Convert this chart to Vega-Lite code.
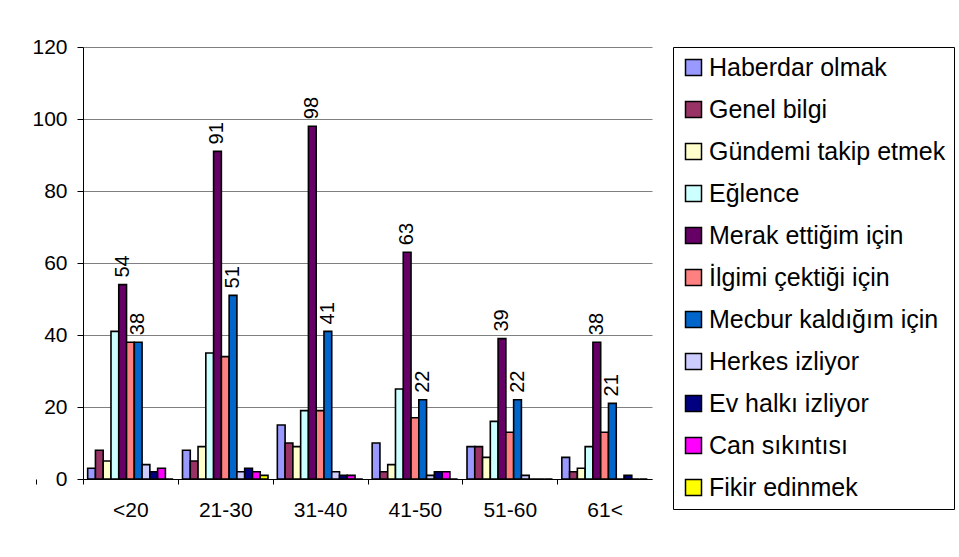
{
  "$schema": "https://vega.github.io/schema/vega-lite/v6.json",
  "autosize": {"type": "none"},
  "padding": {"left": 83, "top": 47, "right": 307, "bottom": 78},
  "width": 569,
  "height": 432,
  "background": "white",
  "config": {"view": {"stroke": null}},
  "data": {"values": [
    {"age": "<20", "series": "Haberdar olmak", "value": 3},
    {"age": "<20", "series": "Genel bilgi", "value": 8},
    {"age": "<20", "series": "Gündemi takip etmek", "value": 5},
    {"age": "<20", "series": "Eğlence", "value": 41},
    {"age": "<20", "series": "Merak ettiğim için", "value": 54},
    {"age": "<20", "series": "İlgimi çektiği için", "value": 38},
    {"age": "<20", "series": "Mecbur kaldığım için", "value": 38},
    {"age": "<20", "series": "Herkes izliyor", "value": 4},
    {"age": "<20", "series": "Ev halkı izliyor", "value": 2},
    {"age": "<20", "series": "Can sıkıntısı", "value": 3},
    {"age": "<20", "series": "Fikir edinmek", "value": 0},
    {"age": "21-30", "series": "Haberdar olmak", "value": 8},
    {"age": "21-30", "series": "Genel bilgi", "value": 5},
    {"age": "21-30", "series": "Gündemi takip etmek", "value": 9},
    {"age": "21-30", "series": "Eğlence", "value": 35},
    {"age": "21-30", "series": "Merak ettiğim için", "value": 91},
    {"age": "21-30", "series": "İlgimi çektiği için", "value": 34},
    {"age": "21-30", "series": "Mecbur kaldığım için", "value": 51},
    {"age": "21-30", "series": "Herkes izliyor", "value": 2},
    {"age": "21-30", "series": "Ev halkı izliyor", "value": 3},
    {"age": "21-30", "series": "Can sıkıntısı", "value": 2},
    {"age": "21-30", "series": "Fikir edinmek", "value": 1},
    {"age": "31-40", "series": "Haberdar olmak", "value": 15},
    {"age": "31-40", "series": "Genel bilgi", "value": 10},
    {"age": "31-40", "series": "Gündemi takip etmek", "value": 9},
    {"age": "31-40", "series": "Eğlence", "value": 19},
    {"age": "31-40", "series": "Merak ettiğim için", "value": 98},
    {"age": "31-40", "series": "İlgimi çektiği için", "value": 19},
    {"age": "31-40", "series": "Mecbur kaldığım için", "value": 41},
    {"age": "31-40", "series": "Herkes izliyor", "value": 2},
    {"age": "31-40", "series": "Ev halkı izliyor", "value": 1},
    {"age": "31-40", "series": "Can sıkıntısı", "value": 1},
    {"age": "31-40", "series": "Fikir edinmek", "value": 0},
    {"age": "41-50", "series": "Haberdar olmak", "value": 10},
    {"age": "41-50", "series": "Genel bilgi", "value": 2},
    {"age": "41-50", "series": "Gündemi takip etmek", "value": 4},
    {"age": "41-50", "series": "Eğlence", "value": 25},
    {"age": "41-50", "series": "Merak ettiğim için", "value": 63},
    {"age": "41-50", "series": "İlgimi çektiği için", "value": 17},
    {"age": "41-50", "series": "Mecbur kaldığım için", "value": 22},
    {"age": "41-50", "series": "Herkes izliyor", "value": 1},
    {"age": "41-50", "series": "Ev halkı izliyor", "value": 2},
    {"age": "41-50", "series": "Can sıkıntısı", "value": 2},
    {"age": "41-50", "series": "Fikir edinmek", "value": 0},
    {"age": "51-60", "series": "Haberdar olmak", "value": 9},
    {"age": "51-60", "series": "Genel bilgi", "value": 9},
    {"age": "51-60", "series": "Gündemi takip etmek", "value": 6},
    {"age": "51-60", "series": "Eğlence", "value": 16},
    {"age": "51-60", "series": "Merak ettiğim için", "value": 39},
    {"age": "51-60", "series": "İlgimi çektiği için", "value": 13},
    {"age": "51-60", "series": "Mecbur kaldığım için", "value": 22},
    {"age": "51-60", "series": "Herkes izliyor", "value": 1},
    {"age": "51-60", "series": "Ev halkı izliyor", "value": 0},
    {"age": "51-60", "series": "Can sıkıntısı", "value": 0},
    {"age": "51-60", "series": "Fikir edinmek", "value": 0},
    {"age": "61<", "series": "Haberdar olmak", "value": 6},
    {"age": "61<", "series": "Genel bilgi", "value": 2},
    {"age": "61<", "series": "Gündemi takip etmek", "value": 3},
    {"age": "61<", "series": "Eğlence", "value": 9},
    {"age": "61<", "series": "Merak ettiğim için", "value": 38},
    {"age": "61<", "series": "İlgimi çektiği için", "value": 13},
    {"age": "61<", "series": "Mecbur kaldığım için", "value": 21},
    {"age": "61<", "series": "Herkes izliyor", "value": 0},
    {"age": "61<", "series": "Ev halkı izliyor", "value": 1},
    {"age": "61<", "series": "Can sıkıntısı", "value": 0},
    {"age": "61<", "series": "Fikir edinmek", "value": 0}
  ]},
  "encoding": {
    "x": {
      "field": "age", "type": "nominal",
      "sort": ["<20", "21-30", "31-40", "41-50", "51-60", "61<"],
      "scale": {"paddingInner": 0, "paddingOuter": 0},
      "axis": {
        "title": null, "labelAngle": 0, "grid": false,
        "tickOffset": -47.4, "labelOffset": 47.4, "tickExtra": true,
        "domainColor": "black", "tickColor": "black", "tickSize": 5,
        "labelPadding": 15, "labelFontSize": 21, "labelFont": "Liberation Sans", "labelColor": "black"
      }
    },
    "y": {
      "field": "value", "type": "quantitative", "stack": null,
      "scale": {"domain": [0, 120], "nice": false},
      "axis": {
        "title": null, "values": [0, 20, 40, 60, 80, 100, 120], "grid": true,
        "gridColor": "#808080", "gridWidth": 1,
        "domainColor": "black", "tickColor": "black", "tickSize": 6,
        "labelPadding": 10, "labelFontSize": 21, "labelFont": "Liberation Sans", "labelColor": "black"
      }
    }
  },
  "layer": [
    {
      "mark": {"type": "bar", "stroke": "black", "strokeWidth": 1.6},
      "encoding": {
        "xOffset": {
          "field": "series", "type": "nominal",
          "scale": {
            "domain": ["Haberdar olmak", "Genel bilgi", "Gündemi takip etmek", "Eğlence", "Merak ettiğim için", "İlgimi çektiği için", "Mecbur kaldığım için", "Herkes izliyor", "Ev halkı izliyor", "Can sıkıntısı", "Fikir edinmek"],
            "paddingInner": 0, "paddingOuter": 0.6
          }
        },
        "color": {
          "field": "series", "type": "nominal",
          "scale": {
            "domain": ["Haberdar olmak", "Genel bilgi", "Gündemi takip etmek", "Eğlence", "Merak ettiğim için", "İlgimi çektiği için", "Mecbur kaldığım için", "Herkes izliyor", "Ev halkı izliyor", "Can sıkıntısı", "Fikir edinmek"],
            "range": ["#9999FF", "#993366", "#FFFFCC", "#CCFFFF", "#660066", "#FF8080", "#0066CC", "#CCCCFF", "#000080", "#FF00FF", "#FFFF00"]
          },
          "legend": {
            "title": null, "orient": "none", "legendX": 590, "legendY": 0,
            "symbolType": "square", "symbolSize": 256, "symbolStrokeColor": "black", "symbolStrokeWidth": 1.5,
            "labelFontSize": 25, "labelFont": "Liberation Sans", "labelColor": "black", "labelLimit": 400, "labelOffset": 3,
            "rowPadding": 16, "padding": 8, "strokeColor": "black", "fillColor": "white"
          }
        }
      }
    },
    {
      "transform": [{"filter": {"field": "series", "equal": "Merak ettiğim için"}}],
      "mark": {"type": "text", "angle": 270, "align": "left", "baseline": "middle", "dx": 7, "xOffset": -7.77, "fontSize": 20, "font": "Liberation Sans", "color": "black"},
      "encoding": {"text": {"field": "value", "type": "quantitative"}}
    },
    {
      "transform": [{"filter": {"field": "series", "equal": "Mecbur kaldığım için"}}],
      "mark": {"type": "text", "angle": 270, "align": "left", "baseline": "middle", "dx": 7, "xOffset": 7.77, "fontSize": 20, "font": "Liberation Sans", "color": "black"},
      "encoding": {"text": {"field": "value", "type": "quantitative"}}
    }
  ]
}
